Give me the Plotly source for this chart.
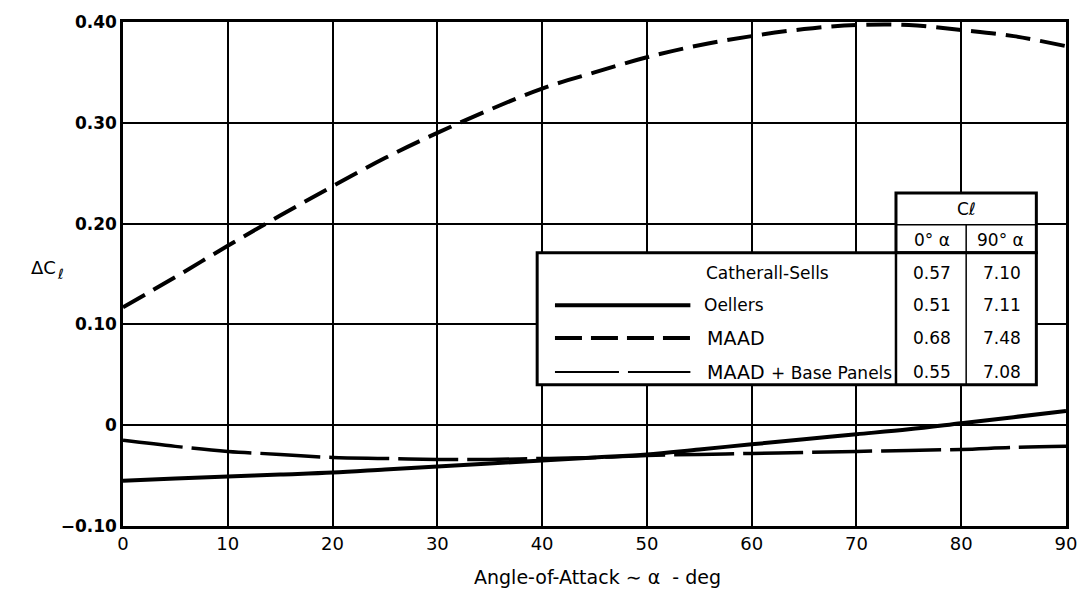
import plotly.graph_objects as go

# ---------------- data ----------------
alpha = [0, 5, 10, 15, 20, 25, 30, 35, 40, 45, 50, 55, 60, 65, 70, 75, 80, 85, 90]
maad = [0.117, 0.147, 0.178, 0.208, 0.237, 0.265, 0.290, 0.313, 0.334, 0.350,
        0.365, 0.377, 0.386, 0.393, 0.397, 0.397, 0.392, 0.386, 0.376]
oellers = [-0.055, -0.053, -0.051, -0.049, -0.047, -0.044, -0.041, -0.038, -0.035, -0.032,
           -0.029, -0.024, -0.019, -0.014, -0.009, -0.004, 0.002, 0.008, 0.014]
maad_base = [-0.015, -0.021, -0.026, -0.029, -0.032, -0.033, -0.034, -0.034, -0.033, -0.032,
             -0.030, -0.029, -0.028, -0.027, -0.026, -0.025, -0.024, -0.022, -0.021]

x_ticks = [0, 10, 20, 30, 40, 50, 60, 70, 80, 90]
y_ticks = [-0.10, 0, 0.10, 0.20, 0.30, 0.40]
y_tick_labels = ["\u22120.10", "0", "0.10", "0.20", "0.30", "0.40"]

table_methods = ["Catherall-Sells", "Oellers", "MAAD", "MAAD + Base Panels"]
cl_0deg = ["0.57", "0.51", "0.68", "0.55"]
cl_90deg = ["7.10", "7.11", "7.48", "7.08"]

# ---------------- layout helpers (pixel -> paper) ----------------
W, H = 1089, 591
L, R, T, B = 123, 1077, 19, 526


def px(x):
    return (x - L) / (R - L)


def py(y):
    return (B - y) / (B - T)


FONT = "DejaVu Sans, Liberation Sans, Arial, sans-serif"

fig = go.Figure()
fig.add_trace(go.Scatter(x=alpha, y=maad, mode="lines",
                         line=dict(color="black", width=4, dash="25px,10px", shape="spline"),
                         showlegend=False, hoverinfo="skip"))
fig.add_trace(go.Scatter(x=alpha, y=maad_base, mode="lines",
                         line=dict(color="black", width=3.5, dash="60px,9px", shape="spline"),
                         showlegend=False, hoverinfo="skip"))
fig.add_trace(go.Scatter(x=alpha, y=oellers, mode="lines",
                         line=dict(color="black", width=4, shape="spline"),
                         showlegend=False, hoverinfo="skip"))

shapes = []
annotations = []


def txt(x, y, text, size, xanchor="center", bold=False):
    annotations.append(dict(x=px(x), y=py(y), xref="paper", yref="paper", text=text, showarrow=False,
                            xanchor=xanchor, yanchor="middle",
                            font=dict(size=size, color="black", family=FONT,
                                      weight="bold" if bold else "normal")))


# table boxes
tab_l, tab_r, tab_t, tab_b = 542, 1047, 251, 384
hdr_l, hdr_t, hdr_mid = 905, 191, 223
col_div = 976
shapes.append(dict(type="rect", xref="paper", yref="paper", x0=px(hdr_l), x1=px(tab_r), y0=py(tab_t), y1=py(hdr_t),
                   fillcolor="white", line=dict(color="black", width=3), layer="above"))
shapes.append(dict(type="rect", xref="paper", yref="paper", x0=px(tab_l), x1=px(tab_r), y0=py(tab_b), y1=py(tab_t),
                   fillcolor="white", line=dict(color="black", width=3), layer="above"))
shapes.append(dict(type="line", xref="paper", yref="paper", x0=px(hdr_l), x1=px(tab_r), y0=py(hdr_mid), y1=py(hdr_mid),
                   line=dict(color="black", width=1.5), layer="above"))
shapes.append(dict(type="line", xref="paper", yref="paper", x0=px(col_div), x1=px(col_div), y0=py(tab_b), y1=py(hdr_mid),
                   line=dict(color="black", width=1.5), layer="above"))
shapes.append(dict(type="line", xref="paper", yref="paper", x0=px(hdr_l), x1=px(hdr_l), y0=py(tab_b), y1=py(tab_t),
                   line=dict(color="black", width=2.5), layer="above"))

row_y = [271, 304, 337, 371]
samples = [None, dict(width=4, dash="solid"), dict(width=4, dash="27px,9px"), dict(width=2, dash="64px,9px")]
for i, name in enumerate(table_methods):
    yy = row_y[i]
    s = samples[i]
    if s is not None:
        shapes.append(dict(type="line", xref="paper", yref="paper", x0=px(560), x1=px(697), y0=py(yy), y1=py(yy),
                           line=dict(color="black", width=s["width"], dash=s["dash"]), layer="above"))
    if name == "Catherall-Sells":
        txt(711, yy, name, 17, xanchor="left")
    elif name == "MAAD + Base Panels":
        first, rest = name.split(" ", 1)
        txt(712, yy, first, 19, xanchor="left")
        txt(777, yy + 1, rest, 17, xanchor="left")
    elif name == "MAAD":
        txt(712, yy, name, 19, xanchor="left")
    else:
        txt(709, yy, name, 17, xanchor="left")
    txt(941, yy, cl_0deg[i], 17)
    txt(1012, yy, cl_90deg[i], 17)

txt(976, 207, "C\u2113", 17)
txt(941, 238, "0\u00b0 \u03b1", 17)
txt(1011, 238, "90\u00b0 \u03b1", 17)

# y axis title: ΔC with a lowered ℓ
txt(43, 266, "\u0394C", 18, xanchor="center")
txt(60, 272, "\u2113", 14, xanchor="center")

# x axis title
txt(603, 577, "Angle-of-Attack \u223c \u03b1  - deg", 19)

fig.update_layout(
    width=W, height=H,
    margin=dict(l=L, r=W - R, t=T, b=H - B),
    paper_bgcolor="white", plot_bgcolor="white",
    shapes=shapes, annotations=annotations,
    font=dict(family=FONT, color="black"),
    xaxis=dict(range=[0, 90], tickvals=x_ticks, ticktext=[str(v) for v in x_ticks],
               showgrid=True, gridcolor="black", gridwidth=1.5, zeroline=False,
               showline=True, linecolor="black", linewidth=2.5, mirror=True, ticks="",
               tickfont=dict(size=18, color="black")),
    yaxis=dict(range=[-0.10, 0.40], tickvals=y_ticks, ticktext=y_tick_labels,
               showgrid=True, gridcolor="black", gridwidth=1.5, zeroline=False,
               showline=True, linecolor="black", linewidth=2.5, mirror=True, ticks="",
               tickfont=dict(size=17, color="black", weight="bold")),
)

fig.write_html("out.html")
